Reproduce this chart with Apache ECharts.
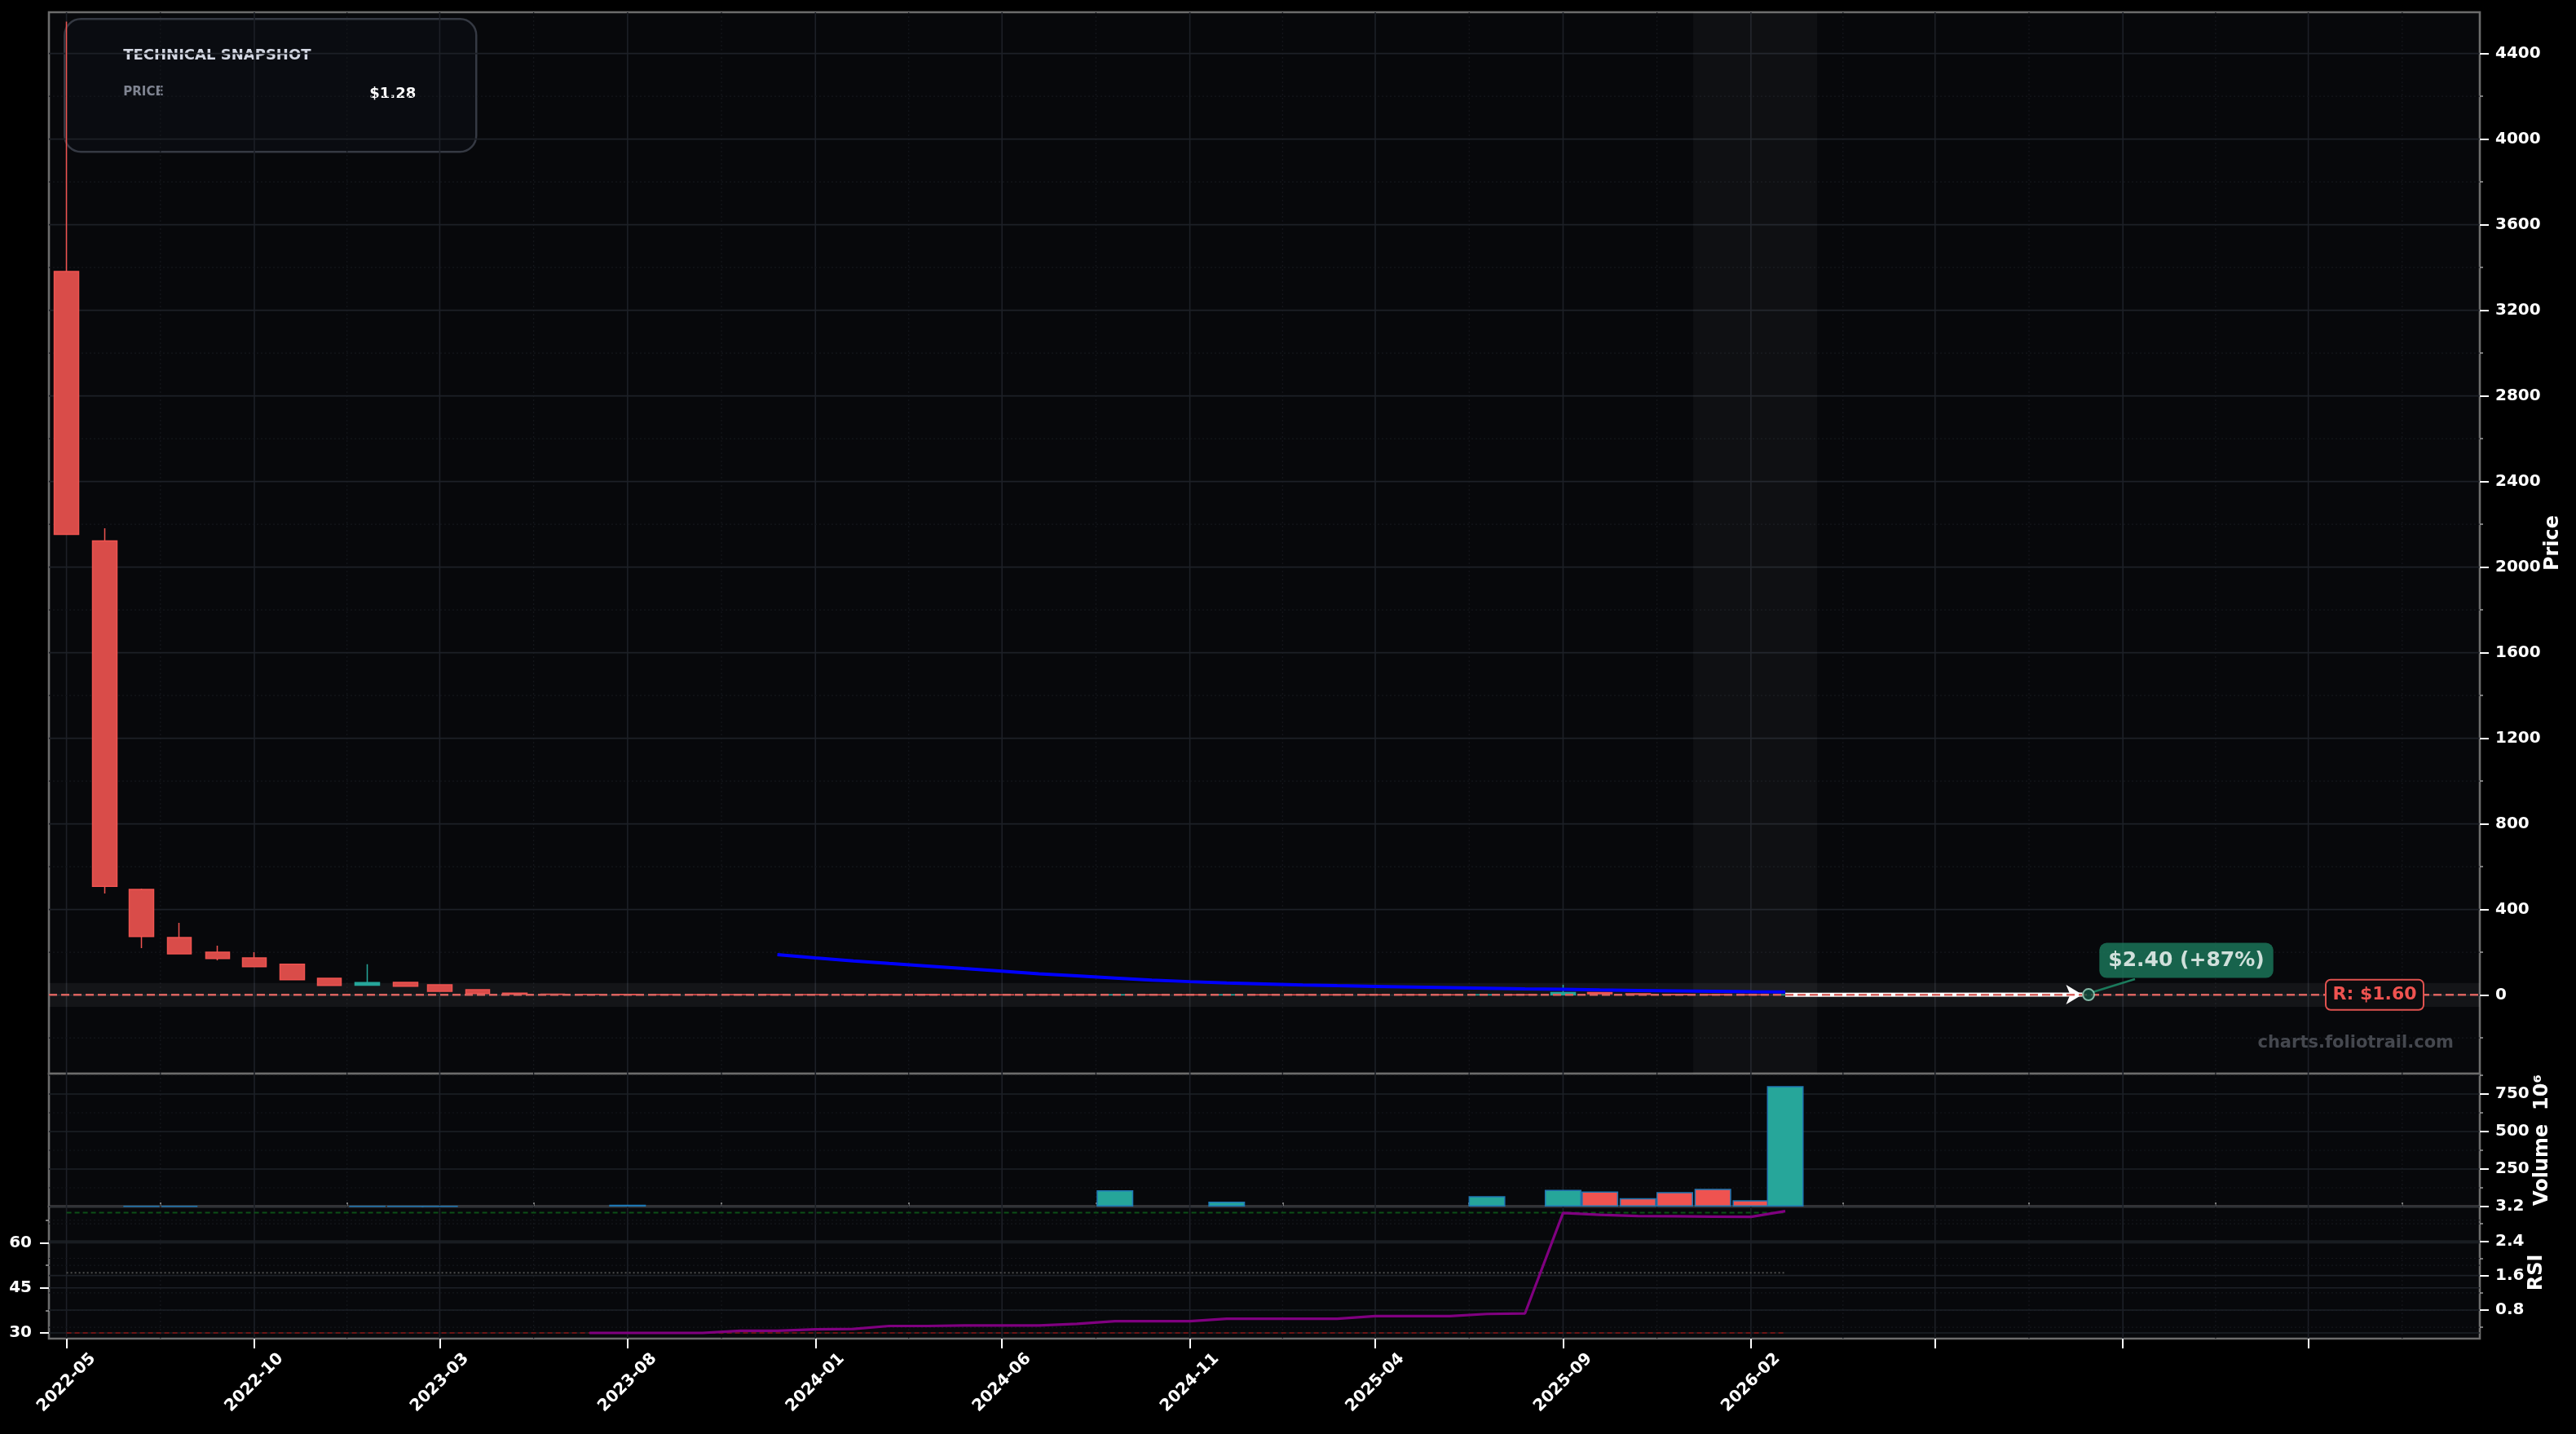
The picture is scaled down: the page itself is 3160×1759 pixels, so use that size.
<!DOCTYPE html>
<html><head><meta charset="utf-8">
<script src="https://cdn.jsdelivr.net/npm/echarts@6/dist/echarts.min.js"></script>
<style>html,body{margin:0;padding:0;background:#000;}#c{width:3160px;height:1759px;}</style>
</head><body><div id="c"></div>
<script>
// ---------------- DATA ----------------
const months = ['2022-05','2022-06','2022-07','2022-08','2022-09','2022-10','2022-11','2022-12',
 '2023-01','2023-02','2023-03','2023-04','2023-05','2023-06','2023-07','2023-08','2023-09','2023-10','2023-11','2023-12',
 '2024-01','2024-02','2024-03','2024-04','2024-05','2024-06','2024-07','2024-08','2024-09','2024-10','2024-11','2024-12',
 '2025-01','2025-02','2025-03','2025-04','2025-05','2025-06','2025-07','2025-08','2025-09','2025-10','2025-11','2025-12',
 '2026-01','2026-02','2026-03'];
const openP  = [3382,2123,494,269,201,174,144,79,46,60,48,25,9.5,4.6,3.7,3.1,2.8,2.6,2.45,2.35,2.3,2.2,2.12,2.05,1.98,1.92,1.86,1.8,1.75,1.82,1.72,1.64,1.7,1.6,1.52,1.45,1.38,1.3,1.22,1.28,1.18,12.5,6.2,3.9,2.1,1.55,1.1];
const closeP = [2153,508,274,193,171,133,72,45,59,42,18,7,4.6,3.7,3.1,2.8,2.6,2.45,2.35,2.3,2.2,2.12,2.05,1.98,1.92,1.86,1.8,1.75,1.82,1.72,1.64,1.7,1.6,1.52,1.45,1.38,1.3,1.22,1.28,1.18,12.5,6.2,3.9,2.1,1.55,1.1,1.28];
const lowP   = [2150,475,220,190,163,130,70,43,44,41,17,6,4.2,3.3,2.9,2.6,2.5,2.35,2.25,2.2,2.1,2.05,1.98,1.92,1.86,1.8,1.75,1.7,1.7,1.66,1.6,1.6,1.55,1.48,1.4,1.33,1.25,1.18,1.15,1.12,1.15,5.5,3.5,1.9,1.45,1.05,1.0];
const highP  = [4549,2182,498,338,231,201,146,80,144,61,49,26,12,5.2,4.1,3.6,3.0,2.8,2.6,2.5,2.45,2.3,2.2,2.12,2.05,1.98,1.92,1.86,1.95,1.85,1.76,1.8,1.72,1.64,1.56,1.5,1.42,1.34,1.4,1.3,48,14,7,4.5,2.4,1.7,1.9];
// volume in millions; null = no visible bar
const volumeM = [null,null,4,4,null,null,null,null,3,3,3,null,null,null,null,12,null,null,null,null,null,null,null,null,null,null,null,null,109,null,null,33,null,null,null,null,null,null,69,null,112,101,56,96,118,42,803];
const smaMonths = months.slice(19);
const smaVals = [189,174,160,148,136,124,112,100,90,80,70,63,57,52,47,44,41,38,35,32,29,27,24,22,20,18,16,15];
const rsiMonths = months.slice(14);
const rsiVals = [30.0,30.0,30.0,30.0,30.7,30.7,31.2,31.3,32.3,32.3,32.5,32.5,32.5,33.0,33.9,33.9,33.9,34.7,34.7,34.7,34.7,35.6,35.6,35.6,36.3,36.5,69.9,69.3,68.9,68.8,68.7,68.6,70.5];
const lastPrice = 1.28, targetPrice = 2.40, targetDate = '2026-11-03', resistance = 1.60;
const zoneLow = -55, zoneHigh = 57;
const recentBand = ['2025-12-16','2026-03-27'];
const xRange = ['2022-04-16T16','2027-09-17T17'];
const xTickLabels = ['2022-05','2022-10','2023-03','2023-08','2024-01','2024-06','2024-11','2025-04','2025-09','2026-02'];
const xTicksNoLabel = ['2026-07','2026-12','2027-05'];
const priceTicks = [0,400,800,1200,1600,2000,2400,2800,3200,3600,4000,4400];
const priceMinor = [-200,200,600,1000,1400,1800,2200,2600,3000,3400,3800,4200];
const priceRange = [-367, 4593];
const volTicks = [250,500,750], volMinor = [125,375,625,875], volRange = [0, 886];
const rsiTicks = [30,45,60], rsiMinor = [37.5,52.5,67.5], rsiRange = [28.1, 72.04];
const rsi2Ticks = [0.8,1.6,2.4,3.2], rsi2Minor = [0.4,1.2,2.0,2.8], rsi2Range = [0.138, 3.2];
const rsiLevels = [70, 50, 30];

// ---------------- HELPERS ----------------
function ts(s){
  const [d, h] = s.split('T');
  const p = d.split('-').map(Number);
  return Date.UTC(p[0], p[1]-1, p[2]||1, h?Number(h):0);
}
const FONT = 'DejaVu Sans';
const TEAL = '#26a69a', RED = '#ef5350', REDFILL = '#d94c49';
const BG = '#07080b';
const xMin = ts(xRange[0]), xMax = ts(xRange[1]);
const majorTs = xTickLabels.concat(xTicksNoLabel).map(ts);
const labelTs = xTickLabels.map(ts);
const minorTs = [];
for (let i = 0; i < majorTs.length - 1; i++) minorTs.push((majorTs[i] + majorTs[i+1]) / 2);
{ const extra = majorTs[majorTs.length-1] + (majorTs[1]-majorTs[0])/2; if (extra < xMax) minorTs.push(extra); }
const labelMap = {}; labelTs.forEach((t,i)=>labelMap[t]=xTickLabels[i]);

const candleData = months.map((m,i)=>[ts(m), openP[i], closeP[i], lowP[i], highP[i]]);
const volData = months.map((m,i)=>volumeM[i]==null ? {value:[ts(m), '-']} :
  ({value:[ts(m), volumeM[i]], itemStyle:{color: closeP[i]>=openP[i]?TEAL:RED}}));
const smaData = smaMonths.map((m,i)=>[ts(m), smaVals[i]]);
const rsiData = rsiMonths.map((m,i)=>[ts(m), rsiVals[i]]);
const tFirst = ts(months[0]), tLast = ts(months[months.length-1]);

const MAJ = {stroke:'#1d2027', lineWidth:1.6};
const MIN = {stroke:'#15171c', lineWidth:1.2, lineDash:[2,3]};
function gridLines(yMinVal, hMaj, hMin){
  const d = [];
  majorTs.forEach(t=>d.push([t, yMinVal, 0]));
  minorTs.forEach(t=>d.push([t, yMinVal, 1]));
  hMaj.forEach(v=>d.push([xMin, v, 2]));
  hMin.forEach(v=>d.push([xMin, v, 3]));
  return d;
}
function renderGrid(params, api){
  const cs = params.coordSys;
  const kind = api.value(2);
  const p = api.coord([api.value(0), api.value(1)]);
  if (kind < 2) {
    return {type:'line', silent:true, shape:{x1:p[0],y1:cs.y,x2:p[0],y2:cs.y+cs.height}, style: kind===0?MAJ:MIN};
  }
  return {type:'line', silent:true, shape:{x1:cs.x,y1:p[1],x2:cs.x+cs.width,y2:p[1]}, style: kind===2?MAJ:MIN};
}
function renderBand(params, api){
  const p1 = api.coord([api.value(0), api.value(3)]);
  const p2 = api.coord([api.value(1), api.value(2)]);
  return {type:'rect', silent:true, shape:{x:p1[0], y:p1[1], width:p2[0]-p1[0], height:p2[1]-p1[1]},
    style:{fill: api.value(4)===0 ? 'rgba(255,255,255,0.055)' : 'rgba(255,255,255,0.035)'}};
}

const tickFont = {color:'#ffffff', fontFamily:FONT, fontWeight:'bold', fontSize:20};
function yAxisPair(grid, pos, range, ticks, minor, fmt, name, gap, margin){
  return [{
    type:'value', gridIndex:grid, position:pos, min:range[0], max:range[1],
    axisLine:{show:false}, splitLine:{show:false},
    axisTick:{show:true, customValues:ticks, length:11, lineStyle:{color:'#ffffff', width:2}},
    axisLabel:Object.assign({customValues:ticks, margin:margin, formatter:fmt}, tickFont),
    name:name||'', nameLocation:'middle', nameRotate:90, nameGap:gap||0, nameMoveOverlap:false,
    nameTextStyle:{color:'#ffffff', fontFamily:FONT, fontWeight:'bold', fontSize:24}
  },{
    type:'value', gridIndex:grid, position:pos, min:range[0], max:range[1],
    axisLine:{show:false}, splitLine:{show:false}, axisLabel:{show:false},
    axisTick:{show:true, customValues:minor, length:4, lineStyle:{color:'#a0a0a0', width:1.5}}
  }];
}

const gridCommon = {show:true, backgroundColor:BG, borderColor:'#6c6c6c', borderWidth:2.6, left:60, right:118};

const option = {
  backgroundColor:'#000000',
  animation:false,
  grid:[
    Object.assign({top:15, height:1302}, gridCommon),
    Object.assign({top:1317, height:163}, gridCommon),
    Object.assign({top:1480, height:162}, gridCommon)
  ],
  xAxis:[
    {type:'value', gridIndex:0, min:xMin, max:xMax, show:false},
    {type:'value', gridIndex:1, min:xMin, max:xMax, show:false},
    {type:'value', gridIndex:2, min:xMin, max:xMax, axisLine:{show:false}, splitLine:{show:false},
      axisTick:{show:true, customValues:majorTs, length:12, lineStyle:{color:'#ffffff', width:2}},
      axisLabel:Object.assign({customValues:labelTs, rotate:45, align:'center', verticalAlign:'middle', margin:54,
        formatter:(v)=>labelMap[v]||''}, tickFont)},
    {type:'value', gridIndex:2, min:xMin, max:xMax, axisLine:{show:false}, splitLine:{show:false}, axisLabel:{show:false},
      axisTick:{show:true, customValues:minorTs, length:5, lineStyle:{color:'#a0a0a0', width:1.5}}}
  ],
  yAxis:[].concat(
    yAxisPair(0,'right',priceRange,priceTicks,priceMinor,(v)=>String(Math.round(v)),'Price',78,19),
    yAxisPair(1,'right',volRange,volTicks,volMinor,(v)=>String(Math.round(v)),'Volume  10\u2076',65,19),
    yAxisPair(2,'left',rsiRange,rsiTicks,rsiMinor,(v)=>String(Math.round(v)),'',0,21),
    yAxisPair(2,'right',rsi2Range,rsi2Ticks,rsi2Minor,(v)=>v.toFixed(1),'RSI',58,19)
  ),
  series:[
    {type:'custom', xAxisIndex:0, yAxisIndex:0, z:1, silent:true, renderItem:renderGrid, encode:{x:0,y:1},
      data:gridLines(priceRange[0], priceTicks, priceMinor)},
    {type:'custom', xAxisIndex:1, yAxisIndex:2, z:1, silent:true, renderItem:renderGrid, encode:{x:0,y:1},
      data:gridLines(volRange[0], volTicks, volMinor)},
    {type:'custom', xAxisIndex:2, yAxisIndex:4, z:1, silent:true, renderItem:renderGrid, encode:{x:0,y:1},
      data:gridLines(rsiRange[0], rsiTicks, rsiMinor)},
    {type:'custom', xAxisIndex:2, yAxisIndex:6, z:1, silent:true, renderItem:renderGrid, encode:{x:0,y:1},
      data:gridLines(rsi2Range[0], rsi2Ticks, rsi2Minor).filter(d=>d[2]>=2)},
    {type:'custom', xAxisIndex:0, yAxisIndex:0, z:2, silent:true, renderItem:renderBand, encode:{x:[0,1],y:[2,3]},
      data:[[xMin, xMax, zoneLow, zoneHigh, 0],[ts(recentBand[0]), ts(recentBand[1]), priceRange[0], priceRange[1], 1]]},
    {type:'candlestick', xAxisIndex:0, yAxisIndex:0, z:3, barWidth:30, data:candleData,
      itemStyle:{color:TEAL, color0:REDFILL, borderColor:TEAL, borderColor0:RED, borderWidth:1.5}},
    {type:'line', xAxisIndex:0, yAxisIndex:0, z:4, data:smaData, showSymbol:false, symbol:'none',
      lineStyle:{color:'#0000ff', width:4}},
    {type:'line', xAxisIndex:0, yAxisIndex:0, z:5, data:[[xMin, resistance],[xMax, resistance]], symbol:'none',
      lineStyle:{color:'#d9625e', width:2.5, type:[10,5]}},
    {type:'line', xAxisIndex:0, yAxisIndex:0, z:6, data:[], symbol:'none',
      markLine:{silent:true, symbol:['none','arrow'], symbolSize:[18,20], label:{show:false},
        lineStyle:{color:'#ffffff', width:5, type:'solid'},
        data:[[{coord:[tLast, lastPrice]},{coord:[ts(targetDate)-5*86400000, targetPrice]}]]}},
    {type:'scatter', xAxisIndex:0, yAxisIndex:0, z:7, data:[[ts(targetDate), targetPrice]], symbolSize:14,
      itemStyle:{color:'#0f4f3f', borderColor:'#9fdcc6', borderWidth:2},
      label:{show:true, position:'inside', formatter:'$2.40 (+87%)', color:'#ffffff', fontFamily:FONT, fontWeight:'bold', fontSize:25,
        backgroundColor:'#1b7a5c', borderRadius:9, padding:[9,11]},
      labelLayout:{dx:120, dy:-42}},
    {type:'bar', xAxisIndex:1, yAxisIndex:2, z:3, barWidth:45, data:volData,
      itemStyle:{borderColor:'#1f77b4', borderWidth:1.5}},
    {type:'line', xAxisIndex:2, yAxisIndex:4, z:3, data:[[tFirst, rsiLevels[0]],[tLast, rsiLevels[0]]], symbol:'none',
      lineStyle:{color:'#0d4f17', width:2, type:[6,4]}},
    {type:'line', xAxisIndex:2, yAxisIndex:4, z:3, data:[[tFirst, rsiLevels[1]],[tLast, rsiLevels[1]]], symbol:'none',
      lineStyle:{color:'#4d4d4d', width:1.8, type:[2,3]}},
    {type:'line', xAxisIndex:2, yAxisIndex:4, z:3, data:[[tFirst, rsiLevels[2]],[tLast, rsiLevels[2]]], symbol:'none',
      lineStyle:{color:'#6b1515', width:2, type:[6,4]}},
    {type:'line', xAxisIndex:2, yAxisIndex:4, z:4, data:rsiData, symbol:'none',
      lineStyle:{color:'#800080', width:3.2}}
  ]
};

const chart = echarts.init(document.getElementById('c'), null, {renderer:'canvas'});
chart.setOption(option);

const ry = chart.convertToPixel({yAxisIndex:0}, resistance);
const tp = chart.convertToPixel({xAxisIndex:0, yAxisIndex:0}, [ts(targetDate), targetPrice]);
chart.setOption({graphic:[
  {type:'group', left:78, top:22, children:[
    {type:'rect', shape:{x:0,y:0,width:505,height:163,r:20}, style:{fill:'rgba(11,13,18,0.88)', stroke:'#353943', lineWidth:2.5}},
    {type:'text', x:72, y:45, style:{text:'TECHNICAL SNAPSHOT', fill:'#d3d7e2', font:'bold 18px "DejaVu Sans"', verticalAlign:'middle'}},
    {type:'text', x:72, y:90, style:{text:'PRICE', fill:'#7f8491', font:'bold 15px "DejaVu Sans"', verticalAlign:'middle'}},
    {type:'text', x:431, y:92, style:{text:'$' + lastPrice.toFixed(2), fill:'#ffffff', font:'bold 18px "DejaVu Sans"', align:'right', verticalAlign:'middle'}}
  ]},
  {type:'line', z:6, shape:{x1:tp[0]+5, y1:tp[1]-3, x2:tp[0]+57, y2:tp[1]-19}, style:{stroke:'#1b7a5c', lineWidth:2.5}},
  {type:'rect', z:20, shape:{x:2853, y:ry-18.5, width:120, height:37, r:6}, style:{fill:'#0c0c0e', stroke:'#e0524f', lineWidth:2}},
  {type:'text', z:21, x:2913, y:ry, style:{text:'R: $' + resistance.toFixed(2), fill:'#ef5350', font:'bold 22px "DejaVu Sans"', align:'center', verticalAlign:'middle'}},
  {type:'text', z:21, x:3010, y:1280, style:{text:'charts.foliotrail.com', fill:'#45484f', font:'bold 21px "DejaVu Sans"', align:'right', verticalAlign:'middle'}}
]});
</script></body></html>
